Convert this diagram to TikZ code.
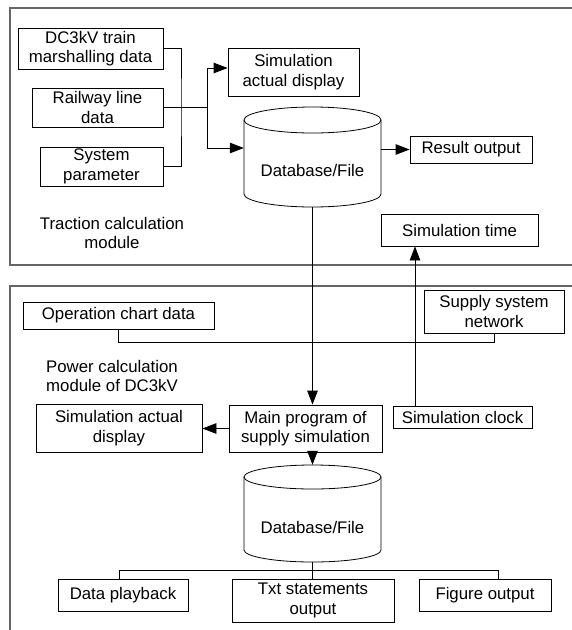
\documentclass[tikz,border=0pt]{standalone}
\usepackage{fontspec}
\setmainfont{Liberation Sans}
\usetikzlibrary{arrows.meta}
\begin{document}
\begin{tikzpicture}[x=1pt,y=-1pt,
 box/.style={draw, line width=0.8pt, align=center, inner sep=0pt},
 arr/.style={-{Triangle[length=14pt,width=10.5pt]}},
 conn/.style={line width=0.8pt},
 frame/.style={draw=black!60, line width=1.4pt},
 lbl/.style={align=center, inner sep=0pt},
 font=\fontsize{16.8}{19.5}\selectfont]
\useasboundingbox (0,0) rectangle (572,630);
% frames
\draw[frame] (576,8) -- (10,8) -- (10,265) -- (576,265);
\draw[frame] (576,286) -- (10,286) -- (10,634);

% top module
\node[box, minimum width=145pt, minimum height=41pt] (dc) at (90.5,48.5) {DC3kV train\\marshalling data};
\node[box, minimum width=131pt, minimum height=39pt] (rail) at (97.5,107.5) {Railway line\\data};
\node[box, minimum width=123pt, minimum height=39pt] (sys) at (101.5,166.5) {System\\parameter};
\node[box, minimum width=131pt, minimum height=48pt] (simd1) at (293.5,72) {Simulation\\actual display};
\node[box, minimum width=122pt, minimum height=27pt] (res) at (471,149.5) {Result output};
\node[box, minimum width=157pt, minimum height=32pt] (simt) at (459.5,230) {Simulation time};
\node[lbl] (trac) at (112,233) {Traction calculation\\module};

\node[minimum width=137pt, minimum height=100pt, inner sep=0pt] (db1) at (312.5,157) {};
\node[lbl] (db1t) at (312.5,170) {Database/File};
\draw[conn] (312.5,120) ellipse[x radius=68.5, y radius=13];
\draw[conn] (244,120) -- (244,194) arc[start angle=180, end angle=0, x radius=68.5, y radius=13] -- (381,120);

\coordinate (j1) at (181,107.5);
\coordinate (j2) at (207,107.5);
\draw[conn] (dc.east) -| (j1) |- (sys.east);
\draw[conn] (rail.east) -- (j2);
\draw[conn, arr] (j2) |- ([yshift=4pt]simd1.west);
\draw[conn, arr] (j2) |- ([yshift=9pt]db1.west);
\draw[conn, arr] (db1.east |- res.west) -- (res.west);

% bottom module
\node[box, minimum width=191pt, minimum height=27pt] (opc) at (118.5,315.5) {Operation chart data};
\node[box, minimum width=140pt, minimum height=43pt] (ssn) at (494,311.5) {Supply system\\network};
\node[lbl] (pow) at (112,376) {Power calculation\\module of DC3kV};
\node[box, minimum width=166pt, minimum height=48pt] (simd2) at (119,428) {Simulation actual\\display};
\node[box, minimum width=153pt, minimum height=47pt] (main) at (305.5,428.5) {Main program of\\supply simulation};
\node[box, minimum width=139pt, minimum height=22pt] (clk) at (462.5,417) {Simulation clock};

\node[minimum width=137pt, minimum height=97pt, inner sep=0pt] (db2) at (312.5,513.5) {};
\node[lbl] (db2t) at (312.5,527) {Database/File};
\draw[conn] (312.5,477) ellipse[x radius=68.5, y radius=12];
\draw[conn] (244,477) -- (244,550) arc[start angle=180, end angle=0, x radius=68.5, y radius=12] -- (381,477);

\node[box, minimum width=130pt, minimum height=32pt] (play) at (123,595) {Data playback};
\node[box, minimum width=162pt, minimum height=43pt] (txt) at (313,600.5) {Txt statements\\output};
\node[box, minimum width=132pt, minimum height=32pt] (fig) at (485,595) {Figure output};

% connectors
\draw[conn, arr] (db1.south) -- (db1.south |- main.north);
\coordinate (c1) at (415,0);
\draw[conn, arr] (c1 |- clk.north) -- (c1 |- simt.south);
\draw[conn] (opc.south) -- ++(0,13) -| (ssn.south);
\draw[conn, arr] (main.west) -- (main.west -| simd2.east);
\draw[conn, arr] (db2.north |- main.south) -- (db2.north);
\draw[conn] (db2.south) -- (db2.south |- txt.north);
\draw[conn] ([xshift=-4pt]play.north) -- ++(0,-8) -| ([xshift=13pt]fig.north);
\end{tikzpicture}
\end{document}
